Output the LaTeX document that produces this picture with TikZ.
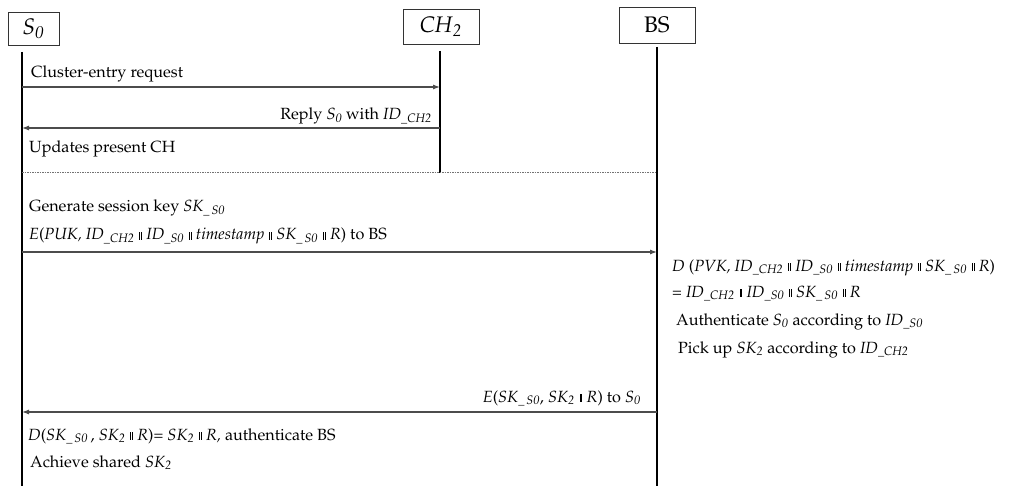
\documentclass[tikz,border=0pt]{standalone}
\usepackage[T1]{fontenc}
\usepackage{mathpazo}
\usetikzlibrary{arrows.meta}
\newcommand{\sbs}[1]{\textsubscript{\textit{#1}}}
\newcommand{\dbar}{\hspace{0.3em}\rule[0.3pt]{0.45pt}{7.5pt}\kern1.3pt\rule[0.3pt]{0.45pt}{7.5pt}\hspace{0.3em}}
\begin{document}
\begin{tikzpicture}[x=1pt,y=-1pt,
  every node/.style={font=\fontsize{16.2}{19}\selectfont, inner sep=0pt},
  actor/.style={draw=black!80, line width=0.9pt, fill=white, font=\fontsize{22.5}{26}\selectfont},
  life/.style={draw=black, line width=1.7pt},
  msg/.style={draw=black!70, line width=1.1pt, -{Latex[length=7pt,width=5pt]}},
  sep/.style={draw=black!55, line width=1pt, dash pattern=on 1.5pt off 1pt},
  lbl/.style={anchor=base west},
  lblr/.style={anchor=base east}]
\path[use as bounding box] (0,0) rectangle (1011,486);
% actors
\node[actor, minimum width=51pt, minimum height=33pt] (S0) at (33.5,28.5) {\textit{S}\textsubscript{\textit{0}}};
\node[actor, minimum width=76pt, minimum height=35pt] (CH) at (441,26.5) {\textit{CH}\textsubscript{\textit{2}}};
\node[actor, minimum width=76pt, minimum height=36pt] (BS) at (657,25) {BS};
% lifelines
\coordinate (s0t) at (22,52);  \coordinate (s0b) at (22,486);
\coordinate (cht) at (440,51); \coordinate (chb) at (440,173);
\coordinate (bst) at (657,47); \coordinate (bsb) at (657,486);
\draw[life] (s0t) -- (s0b);
\draw[life] (cht) -- (chb);
\draw[life] (bst) -- (bsb);
% separator
\coordinate (d1) at (22,173); \coordinate (d2) at (657,173);
\draw[sep] (d1) -- (d2);
% messages
\coordinate (m1a) at (22,87);  \coordinate (m1b) at (440,87);
\coordinate (m2a) at (440,128); \coordinate (m2b) at (22,128);
\coordinate (m3a) at (22,252); \coordinate (m3b) at (657,252);
\coordinate (m4a) at (657,412); \coordinate (m4b) at (22,412);
\draw[msg] (m1a) -- (m1b);
\draw[msg] (m2a) -- (m2b);
\draw[msg] (m3a) -- (m3b);
\draw[msg] (m4a) -- (m4b);
% labels
\node[lbl] (t1) at (31,78) {Cluster-entry request};
\node[lblr] (t2) at (432,120) {Reply \textit{S}\sbs{0} with \textit{ID}\sbs{\_CH2}};
\node[lbl] (t3) at (29,153) {Updates present CH};
\node[lbl] (t4) at (29,212) {Generate session key \textit{SK}\sbs{\_\,S0}};
\node[lbl] (t5) at (29,240) {\textit{E}(\textit{PUK, ID}\sbs{\_CH2}\dbar\textit{ID}\sbs{\_S0}\dbar\textit{timestamp}\dbar\textit{SK}\sbs{\_\,S0}\dbar\textit{R}) to BS};
\node[lbl] (t6) at (672,271) {\textit{D} (\textit{PVK, ID}\sbs{\_CH2}\dbar\textit{ID}\sbs{\_S0}\dbar\textit{timestamp}\dbar\textit{SK}\sbs{\_\,S0}\dbar\textit{R})};
\node[lbl] (t7) at (672,297) {= \textit{ID}\sbs{\_CH2}\dbar\textit{ID}\sbs{\_S0}\dbar\textit{SK}\sbs{\_\,S0}\dbar\textit{R}};
\node[lbl] (t8) at (676,325) {Authenticate \textit{S}\sbs{0} according to \textit{ID}\sbs{\_S0}};
\node[lbl] (t9) at (678,353) {Pick up \textit{SK}\sbs{2} according to \textit{ID}\sbs{\_CH2}};
\node[lblr] (t10) at (641,402) {\textit{E}(\textit{SK}\sbs{\_\,S0}, \textit{SK}\sbs{2}\dbar\textit{R}) to \textit{S}\sbs{0}};
\node[lbl] (t11) at (28,440) {\textit{D}(\textit{SK}\sbs{\_\,S0}\,, \textit{SK}\sbs{2}\dbar\textit{R})= \textit{SK}\sbs{2}\dbar\textit{R,} authenticate BS};
\node[lbl] (t12) at (30,467) {Achieve shared \textit{SK}\sbs{2}};
\end{tikzpicture}
\end{document}
